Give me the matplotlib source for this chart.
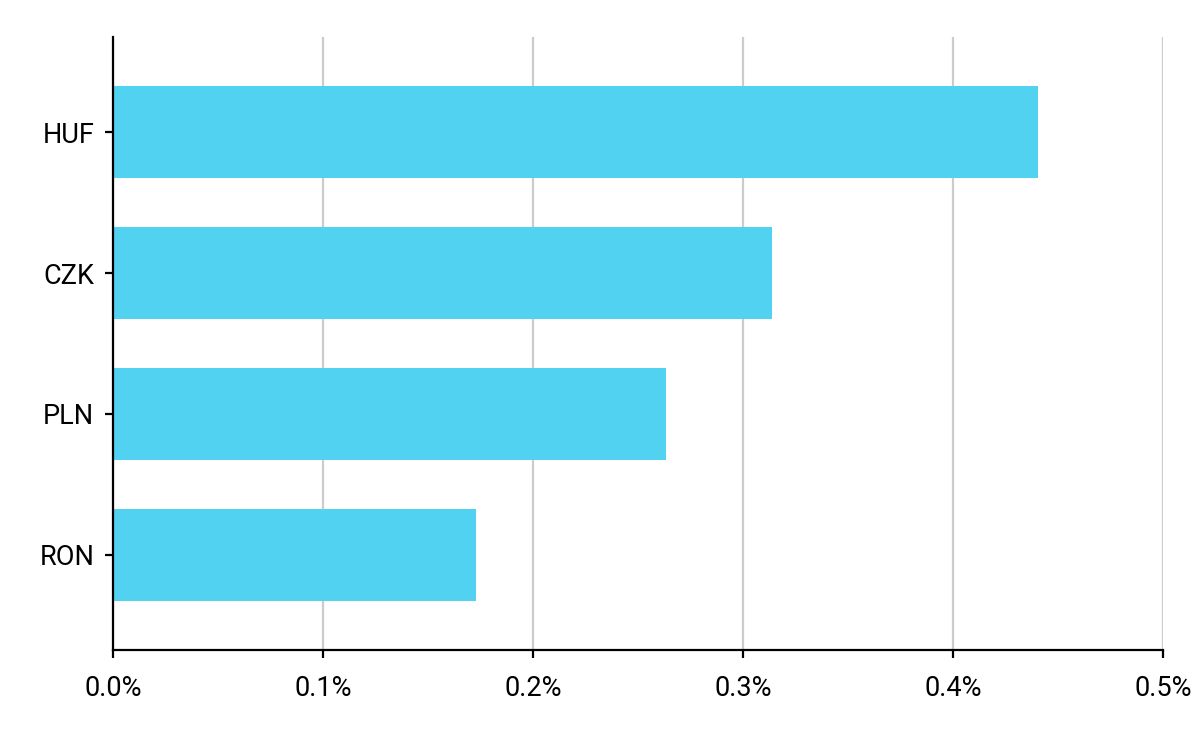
import matplotlib.pyplot as plt
from matplotlib.ticker import FuncFormatter

currencies = ['HUF', 'CZK', 'PLN', 'RON']
values = [0.4405, 0.3138, 0.2633, 0.1729]
xticks = [0.0, 0.1, 0.2, 0.3, 0.4, 0.5]

plt.rcParams['font.family'] = ['Roboto', 'DejaVu Sans']

fig = plt.figure(figsize=(12, 7.42), dpi=100)
ax = fig.add_axes([113/1200, 1-650/742, 1050/1200, 613/742])

ypos = list(range(len(currencies)))[::-1]
ax.barh(ypos, values, height=0.65, color='#50D2F0', zorder=3)

ax.set_xlim(0, 0.5)
ax.set_ylim(-0.675, 3.675)
ax.set_xticks(xticks)
ax.xaxis.set_major_formatter(FuncFormatter(lambda v, p: '%.1f%%' % v))
ax.set_yticks(ypos)
ax.set_yticklabels(currencies)

ax.grid(axis='x', color='#cccccc', linewidth=1.6, zorder=0)
ax.spines['top'].set_visible(False)
ax.spines['right'].set_visible(False)
for s in ['left', 'bottom']:
    ax.spines[s].set_linewidth(1.6)
    ax.spines[s].set_zorder(4)
ax.tick_params(axis='both', labelsize=19.5, length=6, width=1.6, color='black')
ax.tick_params(axis='x', pad=12)
ax.tick_params(axis='y', pad=7.5)

fig.savefig('out.png', dpi=100)
